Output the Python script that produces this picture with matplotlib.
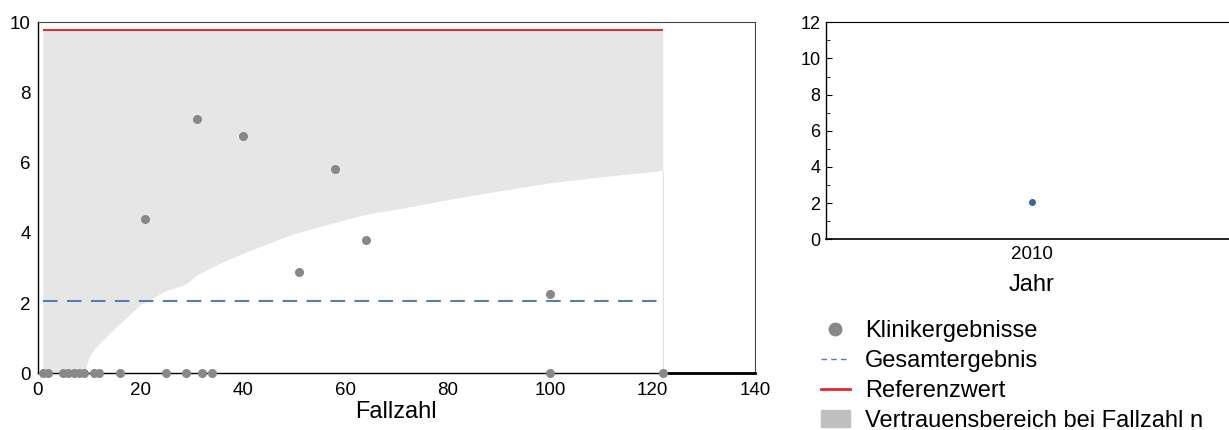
import numpy as np
import matplotlib
matplotlib.use('Agg')
import matplotlib.pyplot as plt
from matplotlib.lines import Line2D
from matplotlib.patches import Patch

plt.rcParams['font.family'] = ['Liberation Sans', 'DejaVu Sans']

# Klinikergebnisse (Fallzahl, Ergebnis)
fallzahl = [1, 2, 5, 6, 7, 8, 9, 11, 12, 16, 25, 29, 32, 34, 100, 122,
            21, 31, 40, 51, 58, 64, 100]
ergebnis = [0, 0, 0, 0, 0, 0, 0, 0, 0, 0, 0, 0, 0, 0, 0, 0,
            4.40, 7.24, 6.77, 2.88, 5.81, 3.81, 2.26]

# Vertrauensbereich (untere Grenze) bei Fallzahl n
band_n = [1, 9, 9.5, 10, 11, 15, 20, 25, 29, 31, 35, 40, 50, 60, 65, 71, 80, 90, 100, 110, 122]
band_lo = [0, 0, 0.2, 0.45, 0.7, 1.28, 1.95, 2.35, 2.55, 2.8, 3.1, 3.42, 3.98, 4.38, 4.56, 4.7,
           4.95, 5.2, 5.43, 5.6, 5.78]

gesamt = 2.05
referenz = 9.78
n_min, n_max = 1, 122

jahre = ['2010']
jahr_werte = [2.05]

grey = '#888888'
blue = '#5a7db0'
red = '#e8262b'

fig = plt.figure(figsize=(12.29, 4.30), dpi=100)

# main panel
ax = fig.add_axes([0.0307, 0.1319, 0.5836, 0.8158])
ax.fill_between(band_n, band_lo, referenz, color='#e6e6e6', lw=0, zorder=1)
ax.vlines(band_n[-1], 0, band_lo[-1], color='#e2e2e2', lw=0.8, zorder=1)
ax.hlines(referenz, n_min, n_max, color=red, lw=1.4, zorder=2)
ax.hlines(gesamt, n_min, n_max, color=blue, lw=1.5, linestyles=(0, (7, 4.5)), zorder=2)
ax.plot(fallzahl, ergebnis, 'o', color=grey, ms=6.5, mec='none', zorder=4, clip_on=False)
ax.plot([n_max, 140], [0, 0], color='black', lw=2, zorder=3, clip_on=False)

ax.set_xlim(0, 140)
ax.set_ylim(0, 10)
ax.set_xticks(range(0, 141, 20))
ax.set_yticks(range(0, 11, 2))
ax.tick_params(length=0, labelsize=13.5, pad=5)
ax.tick_params(axis='x', pad=6)
for s in ['top', 'right']:
    ax.spines[s].set_color('#444444')
    ax.spines[s].set_linewidth(0.8)
for s in ['left', 'bottom']:
    ax.spines[s].set_color('black')
    ax.spines[s].set_linewidth(1.0)
ax.set_xlabel('Fallzahl', fontsize=17, labelpad=2)

# year panel
ax2 = fig.add_axes([0.6721, 0.4435, 0.3352, 0.5047])
ax2.plot(jahre, jahr_werte, 'o', color='#3b64a4', ms=5, mec='none')
ax2.set_xlim(-0.5, 0.5)
ax2.set_ylim(0, 12)
ax2.set_yticks(range(0, 13, 2))
ax2.set_yticks(range(1, 12, 2), minor=True)
ax2.tick_params(axis='y', which='major', direction='in', length=4, labelsize=13, pad=4)
ax2.tick_params(axis='y', which='minor', direction='in', length=3)
ax2.tick_params(axis='x', length=0, labelsize=13.5, pad=5)
ax2.spines['top'].set_linewidth(0.8)
ax2.spines['left'].set_linewidth(1.0)
ax2.spines['bottom'].set_linewidth(1.2)
ax2.set_xlabel('Jahr', fontsize=17, labelpad=8)

handles = [
    Line2D([], [], marker='o', color=grey, ls='none', ms=10, mec='none'),
    Line2D([], [], color=blue, lw=1, ls=(0, (4, 3))),
    Line2D([], [], color=red, lw=2),
    Patch(color='#c0c0c0'),
]
labels = ['Klinikergebnisse', 'Gesamtergebnis', 'Referenzwert', 'Vertrauensbereich bei Fallzahl n']
fig.legend(handles, labels, loc='upper left', bbox_to_anchor=(0.668, 0.256),
           frameon=False, fontsize=17, handlelength=1.23, handletextpad=0.64,
           labelspacing=0.34, borderpad=0, borderaxespad=0)

fig.savefig('out.png', dpi=100)
